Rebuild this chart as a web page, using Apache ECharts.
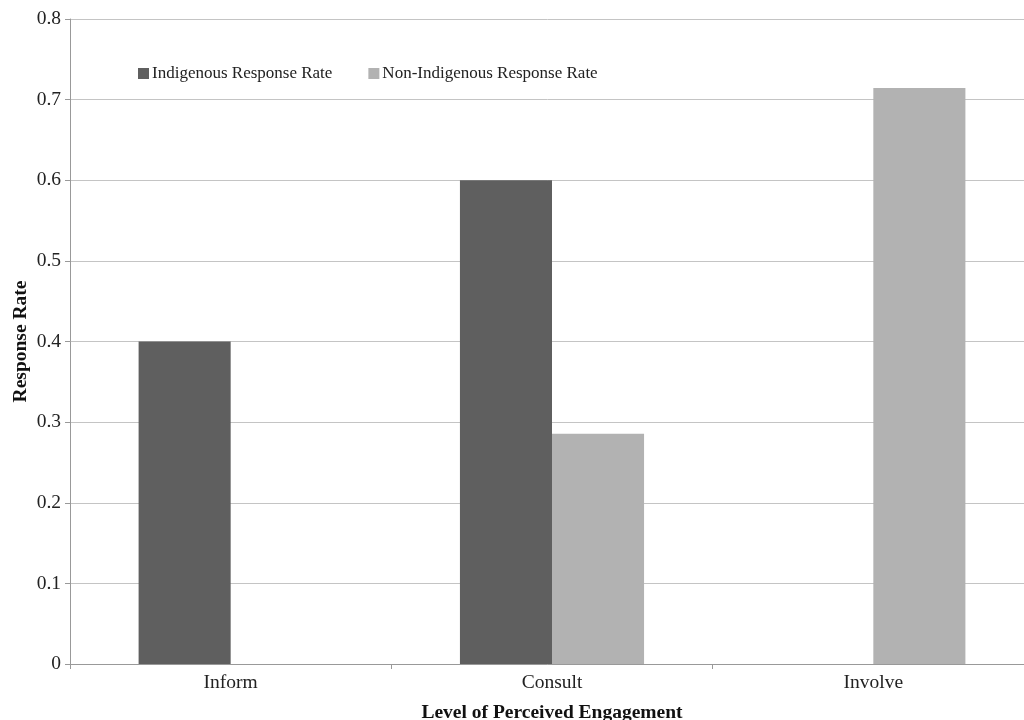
<!DOCTYPE html>
<html><head><meta charset="utf-8">
<script src="https://cdn.jsdelivr.net/npm/echarts@6/dist/echarts.min.js"></script>
<style>html,body{margin:0;padding:0;background:#fff}#c{width:1024px;height:720px}</style>
</head><body><div id="c"></div>
<script>
const categories = ['Inform', 'Consult', 'Involve'];
const indigenous = [0.4, 0.6, 0];
const nonIndigenous = [0, 0.2857, 0.7143];
const yTicks = [0, 0.1, 0.2, 0.3, 0.4, 0.5, 0.6, 0.7, 0.8];

const font = 'Liberation Serif, Times New Roman, serif';
const chart = echarts.init(document.getElementById('c'));
chart.setOption({
  animation: false,
  backgroundColor: '#fff',
  textStyle: { fontFamily: font },
  legend: {
    left: 133, top: 60,
    itemWidth: 11, itemHeight: 11, itemGap: 36,
    icon: 'rect',
    textStyle: { fontFamily: font, fontSize: 17, color: '#222', padding: [0, 0, 0, -2] },
    data: ['Indigenous Response Rate', 'Non-Indigenous Response Rate']
  },
  grid: { left: 70, top: 19, width: 964, height: 645, containLabel: false, outerBoundsMode: 'none' },
  xAxis: {
    type: 'category', data: categories,
    name: 'Level of Perceived Engagement', nameLocation: 'middle', nameGap: 39,
    nameTextStyle: { fontFamily: font, fontSize: 19.5, fontWeight: 'bold', color: '#111' },
    axisLine: { lineStyle: { color: '#999' } },
    axisTick: { show: true, length: 5, lineStyle: { color: '#999' } },
    axisLabel: { fontFamily: font, fontSize: 19.5, color: '#222', margin: 9 }
  },
  yAxis: {
    type: 'value', min: 0, max: 0.8, interval: 0.1,
    name: 'Response Rate', nameLocation: 'middle', nameGap: 39, nameMoveOverlap: false,
    nameTextStyle: { fontFamily: font, fontSize: 19.5, fontWeight: 'bold', color: '#111' },
    axisLine: { show: true, lineStyle: { color: '#999' } },
    axisTick: { show: true, length: 5, lineStyle: { color: '#999' } },
    axisLabel: { fontFamily: font, fontSize: 19.5, color: '#222', margin: 9,
      formatter: v => { const t = yTicks.find(x => Math.abs(x - v) < 1e-9); return t === undefined ? '' : String(t); } },
    splitLine: { lineStyle: { color: '#c4c4c4' } }
  },
  series: [
    { name: 'Indigenous Response Rate', type: 'bar', data: indigenous,
      itemStyle: { color: '#5f5f5f' }, barGap: '0%', barCategoryGap: '42.7%' },
    { name: 'Non-Indigenous Response Rate', type: 'bar', data: nonIndigenous,
      itemStyle: { color: '#b2b2b2' }, barGap: '0%', barCategoryGap: '42.7%' }
  ]
});
</script></body></html>
